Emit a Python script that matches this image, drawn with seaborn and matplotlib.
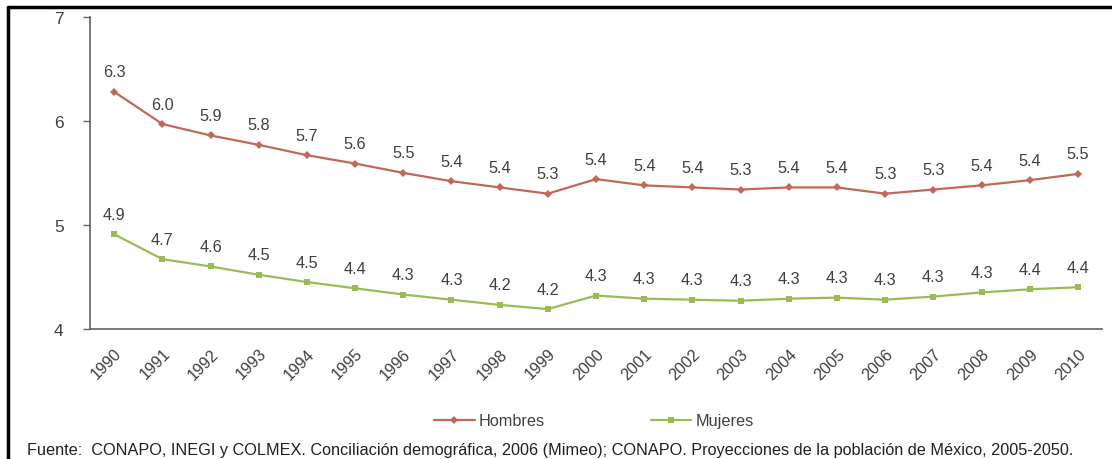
import matplotlib
matplotlib.use("Agg")
import matplotlib.pyplot as plt
from matplotlib.lines import Line2D
import seaborn as sns
import pandas as pd

years = list(range(1990, 2011))
hombres = [6.28, 5.97, 5.86, 5.77, 5.67, 5.59, 5.50, 5.42, 5.36, 5.30, 5.44,
           5.38, 5.36, 5.34, 5.36, 5.36, 5.30, 5.34, 5.38, 5.43, 5.49]
mujeres = [4.91, 4.67, 4.60, 4.52, 4.45, 4.39, 4.33, 4.28, 4.23, 4.19, 4.32,
           4.29, 4.28, 4.27, 4.29, 4.30, 4.28, 4.31, 4.35, 4.38, 4.40]
hombres_lbl = ["6.3", "6.0", "5.9", "5.8", "5.7", "5.6", "5.5", "5.4", "5.4", "5.3", "5.4",
               "5.4", "5.4", "5.3", "5.4", "5.4", "5.3", "5.3", "5.4", "5.4", "5.5"]
mujeres_lbl = ["4.9", "4.7", "4.6", "4.5", "4.5", "4.4", "4.3", "4.3", "4.2", "4.2", "4.3",
               "4.3", "4.3", "4.3", "4.3", "4.3", "4.3", "4.3", "4.3", "4.4", "4.4"]
series = ["Hombres", "Mujeres"]
yticks = [4, 5, 6, 7]
fuente = ("Fuente:  CONAPO, INEGI y COLMEX. Conciliación demográfica, 2006 (Mimeo); "
          "CONAPO. Proyecciones de la población de México, 2005-2050.")

colors = {"Hombres": "#C0685A", "Mujeres": "#9BBB59"}
markers = {"Hombres": "D", "Mujeres": "s"}
txt = "#404040"
fs = 11.7

df = pd.DataFrame({
    "year": years * 2,
    "value": hombres + mujeres,
    "serie": [series[0]] * len(years) + [series[1]] * len(years),
})

sns.set_style("white")
plt.rcParams["font.family"] = ["Liberation Sans", "DejaVu Sans"]

fig = plt.figure(figsize=(11.12, 4.6), dpi=100)
ax = fig.add_axes([0.081, 0.283, 0.91, 0.678])

sns.lineplot(data=df, x="year", y="value", hue="serie", style="serie",
             palette=colors, markers=markers, dashes=False, ax=ax,
             linewidth=1.6, markersize=4.5, markeredgewidth=0, legend=False)

for x, v, l in zip(years, hombres, hombres_lbl):
    ax.annotate(l, (x, v), xytext=(0, 9), textcoords="offset points",
                ha="center", va="bottom", fontsize=fs, color=txt)
for x, v, l in zip(years, mujeres, mujeres_lbl):
    ax.annotate(l, (x, v), xytext=(0, 9), textcoords="offset points",
                ha="center", va="bottom", fontsize=fs, color=txt)

ax.set_xlim(years[0] - 0.5, years[-1] + 0.5)
ax.set_ylim(4, 7)
ax.set_yticks(yticks)
ax.set_yticklabels([str(t) for t in yticks], fontsize=12.5, color=txt)
ax.set_xticks(years)
ax.set_xticklabels([str(y) for y in years], rotation=45, ha="right",
                   rotation_mode="anchor", fontsize=fs, color=txt)
ax.tick_params(axis="x", length=0, pad=12)
ax.tick_params(axis="y", left=True, length=5, width=1, color="#606060", pad=14)
ax.set_xlabel("")
ax.set_ylabel("")
for s in ["top", "right"]:
    ax.spines[s].set_visible(False)
for s in ["left", "bottom"]:
    ax.spines[s].set_color("#606060")
    ax.spines[s].set_linewidth(1.2)

handles = [Line2D([], [], color=colors[s], marker=markers[s], markersize=4.5,
                  markeredgewidth=0, linewidth=1.6) for s in series]
fig.legend(handles, series, loc="center", bbox_to_anchor=(0.534, 0.083), ncol=2,
           frameon=False, fontsize=fs, handlelength=2.5, columnspacing=6.5,
           handletextpad=0.25, labelcolor=txt)

fig.text(0.024, 0.005, fuente, fontsize=fs, color="#202020", ha="left", va="bottom")

fig.add_artist(Line2D([0.007, 1.0], [0.982, 0.982], transform=fig.transFigure,
                      color="black", linewidth=2.5))
fig.add_artist(Line2D([0.007, 0.007], [0.0, 0.982], transform=fig.transFigure,
                      color="black", linewidth=2.5))

fig.savefig("out.png", dpi=100)
